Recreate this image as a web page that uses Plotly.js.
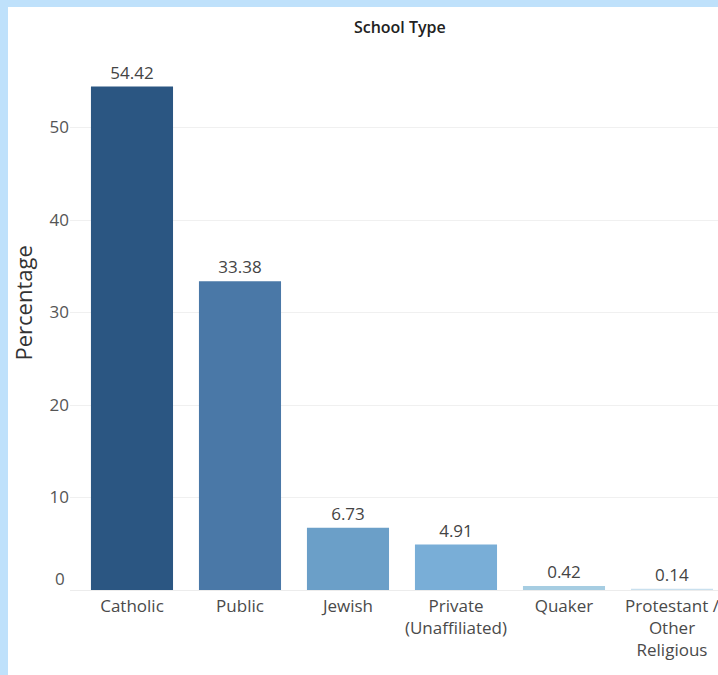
<!DOCTYPE html>
<html>
<head>
<meta charset="utf-8">
<script src="https://cdn.plot.ly/plotly-3.0.1.min.js"></script>
<style>
  html, body { margin: 0; padding: 0; background: #bfe1fb; }
  body { width: 718px; height: 675px; overflow: hidden; }
  #wrap { position: absolute; left: 8px; top: 7px; width: 710px; height: 668px; background: #ffffff; }
  #chart { width: 710px; height: 668px; }
</style>
</head>
<body>
<div id="wrap"><div id="chart"></div></div>
<script>
const categories = ["Catholic", "Public", "Jewish", "Private<br>(Unaffiliated)", "Quaker", "Protestant /<br>Other<br>Religious"];
const percentages = [54.42, 33.38, 6.73, 4.91, 0.42, 0.14];
const barColors = ["#2b5682", "#4a78a7", "#6b9fc8", "#79aed7", "#a6cde2", "#c9e0ee"];
const yTickVals = [0, 10, 20, 30, 40, 50];
const yTickText = ["", "10", "20", "30", "40", "50"];
const FONT = "Open Sans, Noto Sans, sans-serif";

const trace = {
  type: "bar",
  x: categories,
  y: percentages,
  marker: { color: barColors, line: { width: 0 } },
  text: percentages.map(v => v.toFixed(2)),
  textposition: "outside",
  cliponaxis: false,
  textfont: { family: FONT, size: 17, color: "#444444" },
  hoverinfo: "none"
};

const layout = {
  width: 710,
  height: 668,
  margin: { l: 62, r: 0, t: 28, b: 85 },
  paper_bgcolor: "#ffffff",
  plot_bgcolor: "#ffffff",
  showlegend: false,
  bargap: 0.24,
  font: { family: FONT, color: "#555555" },
  title: {
    text: "School Type",
    font: { family: FONT, size: 16, color: "#222222", weight: 600 },
    xref: "paper", x: 0.509, xanchor: "center",
    yref: "container", y: 0.969, yanchor: "middle"
  },
  xaxis: {
    type: "category",
    range: [-0.574, 5.426],
    showgrid: false,
    showline: false,
    zeroline: false,
    ticks: "",
    tickfont: { family: FONT, size: 17, color: "#4a4a4a" },
    ticklabelstandoff: 4,
    fixedrange: true
  },
  yaxis: {
    range: [0, 60],
    tickvals: yTickVals,
    ticktext: yTickText,
    showgrid: true,
    gridcolor: "#f0f0f0",
    gridwidth: 1,
    zeroline: true,
    zerolinecolor: "#ececec",
    zerolinewidth: 1,
    showline: false,
    ticks: "",
    tickfont: { family: FONT, size: 17, color: "#555555" },
    automargin: false,
    fixedrange: true
  },
  annotations: [
    {
      text: "0",
      xref: "paper", x: 0, xanchor: "right", xshift: -3,
      yref: "y", y: 0, yanchor: "middle", yshift: 12,
      showarrow: false,
      font: { family: FONT, size: 17, color: "#555555" }
    },
    {
      text: "Percentage",
      textangle: -90,
      xref: "paper", x: 0, xanchor: "center", xshift: -48,
      yref: "paper", y: 0.5, yanchor: "middle", yshift: 9,
      showarrow: false,
      font: { family: FONT, size: 22, color: "#333333" }
    }
  ]
};

Plotly.newPlot("chart", [trace], layout, { displayModeBar: false, staticPlot: true });
</script>
</body>
</html>
